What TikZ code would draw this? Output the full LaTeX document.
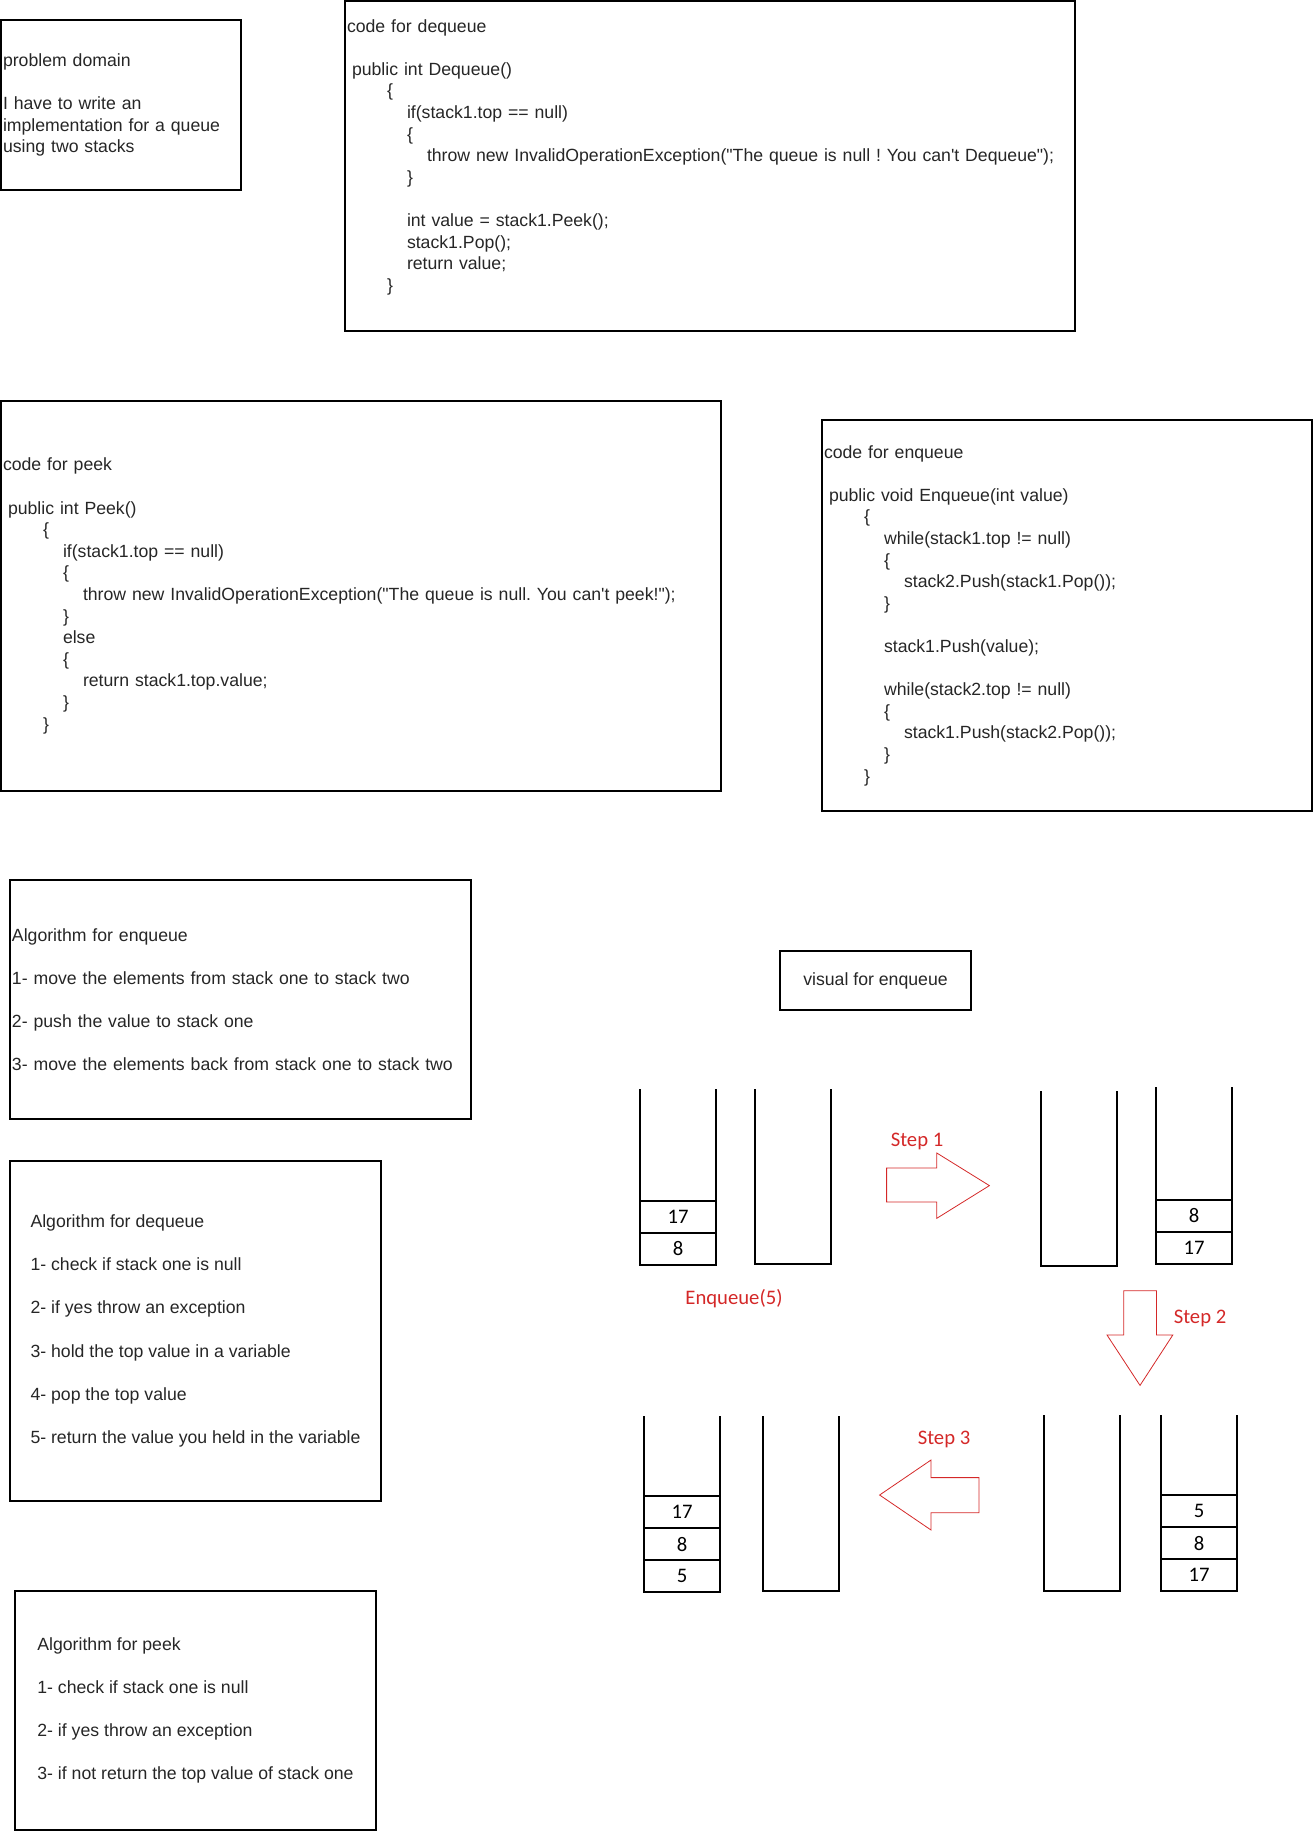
\documentclass[tikz,border=0pt]{standalone}
\usepackage{fontspec}
\setmainfont{Liberation Sans}
\newfontfamily\arial{Liberation Sans}
\newfontfamily\calib{Carlito}
\usepackage{xcolor}
\usepackage{tikz}
\usetikzlibrary{positioning}

\newlength\pxu
\setlength\pxu{0.75pt}
\definecolor{stepred}{HTML}{D42828}
\frenchspacing

\begin{document}
\begin{tikzpicture}[
  x=\pxu, y=-\pxu,
  box/.style={draw, line width=0.9pt, inner xsep=2\pxu, inner ysep=0pt,
              font=\arial\fontsize{13.25}{16.2}\selectfont, text=black!85},
  code/.style={box, align=left},
  cell/.style={draw, line width=1.2pt, outer sep=0pt, inner sep=0pt,
               minimum width=76\pxu, minimum height=32\pxu,
               font=\calib\fontsize{15.5}{18}\selectfont},
  stk/.style={line width=1.2pt},
  lbl/.style={text=stepred, font=\calib\fontsize{15.5}{18}\selectfont},
  blk/.style={draw=stepred, line width=0.6pt}
]
\useasboundingbox (0,0) rectangle (1313,1831);

% text boxes
\node[code, minimum width=240\pxu, minimum height=170\pxu, text width=236\pxu] (prob) at (121,105)
  {problem domain\\[16.2pt]I have to write an\\implementation for a queue\\using two stacks};

\node[code, minimum width=730\pxu, minimum height=330\pxu, text width=726\pxu] (deq) at (710,166)
  {code for dequeue\\[16.2pt]
   \hspace*{5\pxu}public int Dequeue()\\
   \hspace*{40\pxu}\{\\
   \hspace*{60\pxu}if(stack1.top == null)\\
   \hspace*{60\pxu}\{\\
   \hspace*{80\pxu}throw new InvalidOperationException("The queue is null ! You can't Dequeue");\\
   \hspace*{60\pxu}\}\\[16.2pt]
   \hspace*{60\pxu}int value = stack1.Peek();\\
   \hspace*{60\pxu}stack1.Pop();\\
   \hspace*{60\pxu}return value;\\
   \hspace*{40\pxu}\}\\
   ~};

\node[code, minimum width=720\pxu, minimum height=390\pxu, text width=716\pxu] (peek) at (361,596)
  {code for peek\\[16.2pt]
   \hspace*{5\pxu}public int Peek()\\
   \hspace*{40\pxu}\{\\
   \hspace*{60\pxu}if(stack1.top == null)\\
   \hspace*{60\pxu}\{\\
   \hspace*{80\pxu}throw new InvalidOperationException("The queue is null. You can't peek!");\\
   \hspace*{60\pxu}\}\\
   \hspace*{60\pxu}else\\
   \hspace*{60\pxu}\{\\
   \hspace*{80\pxu}return stack1.top.value;\\
   \hspace*{60\pxu}\}\\
   \hspace*{40\pxu}\}};

\node[code, minimum width=490\pxu, minimum height=391\pxu, text width=486\pxu] (enq) at (1067,615.5)
  {code for enqueue\\[16.2pt]
   \hspace*{5\pxu}public void Enqueue(int value)\\
   \hspace*{40\pxu}\{\\
   \hspace*{60\pxu}while(stack1.top != null)\\
   \hspace*{60\pxu}\{\\
   \hspace*{80\pxu}stack2.Push(stack1.Pop());\\
   \hspace*{60\pxu}\}\\[16.2pt]
   \hspace*{60\pxu}stack1.Push(value);\\[16.2pt]
   \hspace*{60\pxu}while(stack2.top != null)\\
   \hspace*{60\pxu}\{\\
   \hspace*{80\pxu}stack1.Push(stack2.Pop());\\
   \hspace*{60\pxu}\}\\
   \hspace*{40\pxu}\}};

\node[code, minimum width=461\pxu, minimum height=239\pxu, text width=457\pxu] (algenq) at (240.5,999.5)
  {Algorithm for enqueue\\[16.2pt]
   1- move the elements from stack one to stack two\\[16.2pt]
   2- push the value to stack one\\[16.2pt]
   3- move the elements back from stack one to stack two};

\node[code, minimum width=371\pxu, minimum height=340\pxu] (algdeq) at (195.5,1331)
  {Algorithm for dequeue\\[16.2pt]
   1- check if stack one is null\\[16.2pt]
   2- if yes throw an exception\\[16.2pt]
   3- hold the top value in a variable\\[16.2pt]
   4- pop the top value\\[16.2pt]
   5- return the value you held in the variable};

\node[code, minimum width=361\pxu, minimum height=239\pxu] (algpeek) at (195.5,1710.5)
  {Algorithm for peek\\[16.2pt]
   1- check if stack one is null\\[16.2pt]
   2- if yes throw an exception\\[16.2pt]
   3- if not return the top value of stack one};

\node[box, minimum width=191\pxu, minimum height=59\pxu] (vis) at (875.5,980.5) {visual for enqueue};

% stacks, first row
\draw[stk] (640,1089) |- (716,1265) -- (716,1089);
\node[cell] (a8) at (678,1249) {8};
\node[cell, above=0pt of a8] (a17) {17};
\draw[stk] (755,1089) |- (831,1264) -- (831,1089);

\draw[stk] (1041,1091) |- (1117,1266) -- (1117,1091);
\draw[stk] (1156,1087) |- (1232,1264) -- (1232,1087);
\node[cell] (d17) at (1194,1248) {17};
\node[cell, above=0pt of d17] (d8) {8};

% stacks, second row
\draw[stk] (644,1416) |- (720,1592) -- (720,1416);
\node[cell] (e5) at (682,1576) {5};
\node[cell, above=0pt of e5] (e8) {8};
\node[cell, above=0pt of e8] (e17) {17};
\draw[stk] (763,1416) |- (839,1591) -- (839,1416);

\draw[stk] (1044,1415) |- (1120,1591) -- (1120,1415);
\draw[stk] (1161,1415) |- (1237,1591) -- (1237,1415);
\node[cell] (h17) at (1199,1575) {17};
\node[cell, above=0pt of h17] (h8) {8};
\node[cell, above=0pt of h8] (h5) {5};

% step arrows
\draw[blk] (886.6,1168) -- (936.8,1168) -- (936.8,1153) -- (989.4,1185.6)
  -- (936.8,1218.3) -- (936.8,1202) -- (886.6,1202) -- cycle;
\draw[blk] (1123.7,1290.7) -- (1156.4,1290.7) -- (1156.4,1335) -- (1172.8,1335)
  -- (1140,1385.4) -- (1107,1335) -- (1123.7,1335) -- cycle;
\draw[blk] (979,1477.6) -- (931,1477.6) -- (931,1460) -- (879.6,1495)
  -- (931,1530) -- (931,1512.7) -- (979,1512.7) -- cycle;

\node[lbl] (s1) at (917,1141) {Step 1};
\node[lbl] (enq5) at (734,1299) {Enqueue(5)};
\node[lbl] (s2) at (1200,1318) {Step 2};
\node[lbl] (s3) at (944,1439) {Step 3};
\end{tikzpicture}
\end{document}
